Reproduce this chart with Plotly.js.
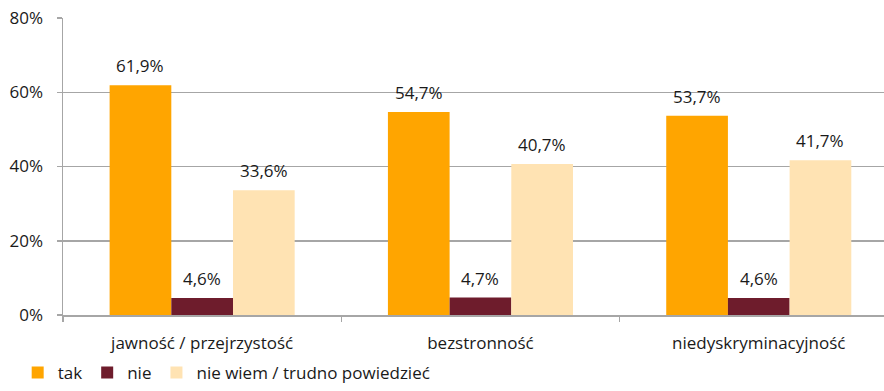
<!DOCTYPE html>
<html>
<head>
<meta charset="utf-8">
<script src="https://cdn.plot.ly/plotly-3.0.1.min.js"></script>
<style>
  html, body { margin: 0; padding: 0; background: #ffffff; }
  #chart { width: 884px; height: 391px; }
</style>
</head>
<body>
<div id="chart"></div>
<script>
// Survey answers per principle (percent of respondents)
const categories = ['jawność / przejrzystość', 'bezstronność', 'niedyskryminacyjność'];
const seriesNames = ['tak', 'nie', 'nie wiem / trudno powiedzieć'];
const takValues = [61.9, 54.7, 53.7];
const nieValues = [4.6, 4.7, 4.6];
const nieWiemValues = [33.6, 40.7, 41.7];
const yTickValues = [0, 20, 40, 60, 80];

const seriesValues = [takValues, nieValues, nieWiemValues];
const seriesColors = ['#FFA500', '#6E1C2C', '#FFE3B3'];
const textFont = { family: 'Open Sans, sans-serif', size: 17, color: '#1a1a1a' };
const barGap = 0.335;

const traces = seriesValues.map((vals, i) => ({
  type: 'bar',
  name: seriesNames[i],
  x: categories,
  y: vals,
  marker: { color: seriesColors[i], line: { width: 0 } },
  hoverinfo: 'x+y'
}));

// value labels above each bar, placed at the bar's centre within its group
const slot = (1 - barGap) / seriesValues.length;
const annotations = [];
seriesValues.forEach((vals, i) => {
  vals.forEach((v, j) => {
    annotations.push({
      xref: 'x', yref: 'y',
      x: j + (i - (seriesValues.length - 1) / 2) * slot,
      y: v,
      text: v.toFixed(1).replace('.', ',') + '%',
      showarrow: false,
      yanchor: 'bottom',
      yshift: 6,
      font: textFont
    });
  });
});

const layout = {
  width: 884,
  height: 391,
  margin: { l: 63, r: 0, t: 18, b: 76 },
  paper_bgcolor: '#ffffff',
  plot_bgcolor: '#ffffff',
  barmode: 'group',
  bargap: barGap,
  bargroupgap: 0,
  separators: ', ',
  font: textFont,
  showlegend: true,
  legend: {
    orientation: 'h',
    xref: 'container', yref: 'container',
    x: 0.02, y: -0.035,
    xanchor: 'left', yanchor: 'bottom',
    itemclick: false,
    font: textFont,
    bgcolor: 'rgba(0,0,0,0)'
  },
  xaxis: {
    type: 'category',
    range: [-0.5, 2.45],
    tickson: 'boundaries',
    ticks: 'outside',
    ticklen: 5,
    tickwidth: 1.5,
    tickcolor: '#A6A6A6',
    showline: true,
    linecolor: '#A6A6A6',
    linewidth: 1.5,
    showgrid: false,
    ticklabelstandoff: 12,
    tickfont: textFont,
    fixedrange: true
  },
  yaxis: {
    range: [0, 80],
    tickvals: yTickValues,
    ticktext: yTickValues.map(v => v + '%'),
    ticks: 'outside',
    ticklen: 5,
    tickwidth: 1.5,
    tickcolor: '#A6A6A6',
    showline: true,
    linecolor: '#A6A6A6',
    linewidth: 1.5,
    showgrid: true,
    gridcolor: '#A6A6A6',
    gridwidth: 1.5,
    zeroline: false,
    ticklabelstandoff: 10,
    tickfont: textFont,
    fixedrange: true
  },
  annotations: annotations
};

Plotly.newPlot('chart', traces, layout, { displayModeBar: false, staticPlot: true });
</script>
</body>
</html>
